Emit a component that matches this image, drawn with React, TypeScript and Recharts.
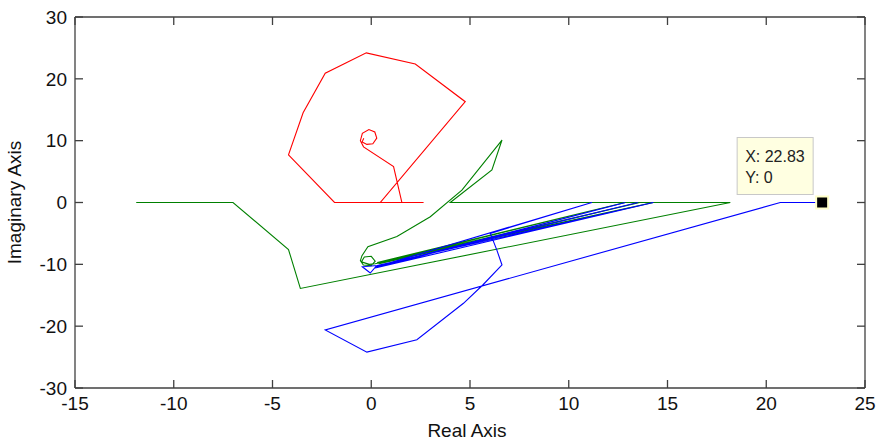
import { LineChart, Line, XAxis, YAxis, ReferenceDot } from "recharts";

type Pt = { x: number; y: number };

const xTicks = [-15, -10, -5, 0, 5, 10, 15, 20, 25];
const yTicks = [-30, -20, -10, 0, 10, 20, 30];

const redCurve: Pt[] = [
  { x: 2.65, y: 0 }, { x: -1.86, y: 0 }, { x: -4.19, y: 7.7 }, { x: -3.45, y: 14.5 },
  { x: -2.33, y: 20.9 }, { x: -0.25, y: 24.2 }, { x: 2.23, y: 22.4 }, { x: 4.76, y: 16.3 },
  { x: 0.46, y: 0 }, { x: 1.55, y: 0 }, { x: 1.13, y: 5.8 }, { x: -0.39, y: 9.0 },
  { x: -0.55, y: 10.0 }, { x: -0.45, y: 11.2 }, { x: -0.12, y: 11.8 }, { x: 0.18, y: 11.4 },
  { x: 0.28, y: 10.4 }, { x: 0.08, y: 9.5 }, { x: -0.22, y: 9.4 }, { x: -0.46, y: 9.8 },
  { x: -0.38, y: 10.4 },
];

const greenCurve: Pt[] = [
  { x: -11.9, y: 0 }, { x: -7.0, y: 0 }, { x: -4.19, y: -7.6 }, { x: -3.59, y: -13.9 },
  { x: 18.18, y: 0 }, { x: 4.0, y: 0 }, { x: 6.11, y: 5.26 }, { x: 6.62, y: 10.1 },
  { x: 4.59, y: 2.0 }, { x: 2.99, y: -2.3 }, { x: 1.3, y: -5.5 }, { x: -0.17, y: -7.15 },
  { x: -0.47, y: -8.6 }, { x: -0.55, y: -9.4 }, { x: -0.4, y: -10.1 }, { x: 0.0, y: -10.2 },
  { x: 0.2, y: -9.5 }, { x: 0.0, y: -8.7 }, { x: -0.35, y: -8.8 }, { x: -0.5, y: -9.6 },
  { x: -0.1, y: -10.0 }, { x: 0.2, y: -9.9 }, { x: 12.86, y: 0 }, { x: 0.3, y: -9.7 },
  { x: 14.28, y: 0 }, { x: 0.4, y: -9.9 }, { x: 13.6, y: 0 }, { x: 0.35, y: -9.8 },
];

const blueCurve: Pt[] = [
  { x: 22.83, y: 0 }, { x: 20.71, y: 0 }, { x: -2.33, y: -20.6 }, { x: -0.22, y: -24.2 },
  { x: 2.31, y: -22.2 }, { x: 4.67, y: -16.3 }, { x: 5.66, y: -13.3 }, { x: 6.62, y: -10.1 },
  { x: 6.36, y: -7.7 }, { x: 6.03, y: -5.0 }, { x: 11.17, y: 0 }, { x: 0.25, y: -10.4 },
  { x: 12.86, y: 0 }, { x: 0.2, y: -10.6 }, { x: 14.28, y: 0 }, { x: 0.3, y: -10.2 },
  { x: -0.45, y: -10.4 }, { x: -0.05, y: -11.4 }, { x: 0.25, y: -10.3 }, { x: 13.5, y: 0 },
];

const dataTip = { x: 22.83, y: 0 };

const FONT = "'Liberation Sans', Arial, sans-serif";
const AXIS = "#404040";
const tickStyle = { fontSize: 19, fill: "#111", fontFamily: FONT };

// top/right axes: keep the tick marks, draw no labels
const NoLabel = () => <g />;

function DataTip(props: any) {
  const { cx, cy } = props;
  if (cx == null || cy == null) return null;
  return (
    <g>
      <rect x={cx - 85} y={cy - 65} width={76} height={57} fill="#ffffe1" stroke="#c8c8c8" />
      <text x={cx - 77} y={cy - 41} fontSize={16} fontFamily={FONT} fill="#222">
        X: {dataTip.x}
      </text>
      <text x={cx - 77} y={cy - 20} fontSize={16} fontFamily={FONT} fill="#222">
        Y: {dataTip.y}
      </text>
      <rect x={cx - 6} y={cy - 6} width={12} height={12} fill="#000" stroke="#ffffc8" strokeWidth={2} />
    </g>
  );
}

function YLabel(props: any) {
  const { viewBox } = props;
  if (!viewBox) return null;
  const cx = viewBox.x + 6;
  const cy = viewBox.y + viewBox.height / 2;
  return (
    <text x={cx} y={cy} transform={`rotate(-90 ${cx} ${cy})`} textAnchor="middle" fontSize={19} fontFamily={FONT} fill="#111">
      Imaginary Axis
    </text>
  );
}

function XLabel(props: any) {
  const { viewBox } = props;
  if (!viewBox) return null;
  return (
    <text x={viewBox.x + viewBox.width / 2 - 3} y={viewBox.y + viewBox.height} textAnchor="middle" fontSize={19} fontFamily={FONT} fill="#111">
      Real Axis
    </text>
  );
}

export default function App() {
  return (
    <div style={{ width: 876, height: 443, background: "#fff" }}>
      <style>{"body { margin: 0; overflow: hidden; } .recharts-wrapper svg { overflow: visible; }"}</style>
      <LineChart width={876} height={443} margin={{ top: 16, right: 10, bottom: 6, left: 15 }}>
        <XAxis
          type="number"
          dataKey="x"
          domain={[-15, 25]}
          ticks={xTicks}
          allowDataOverflow
          height={49}
          tickSize={-8}
          tickMargin={17}
          stroke={AXIS}
          strokeWidth={1.3}
          tick={tickStyle}
          label={<XLabel />}
        />
        <XAxis
          xAxisId="top"
          orientation="top"
          type="number"
          dataKey="x"
          domain={[-15, 25]}
          ticks={xTicks}
          allowDataOverflow
          height={1}
          tickSize={-8}
          tick={NoLabel}
          stroke={AXIS}
          strokeWidth={1.3}
        />
        <YAxis
          type="number"
          dataKey="y"
          domain={[-30, 30]}
          ticks={yTicks}
          allowDataOverflow
          width={60}
          tickSize={-8}
          tickMargin={16}
          stroke={AXIS}
          strokeWidth={1.3}
          tick={tickStyle}
          label={<YLabel />}
        />
        <YAxis
          yAxisId="right"
          orientation="right"
          type="number"
          dataKey="y"
          domain={[-30, 30]}
          ticks={yTicks}
          allowDataOverflow
          width={1}
          tickSize={-8}
          tick={NoLabel}
          stroke={AXIS}
          strokeWidth={1.3}
        />
        {/* invisible series so the top/right box axes get drawn */}
        <Line xAxisId="top" yAxisId="right" data={[dataTip]} dataKey="y" stroke="none" dot={false} activeDot={false} isAnimationActive={false} />
        <Line data={redCurve} dataKey="y" type="linear" stroke="#ff0000" strokeWidth={1.1} dot={false} activeDot={false} isAnimationActive={false} />
        <Line data={greenCurve} dataKey="y" type="linear" stroke="#008000" strokeWidth={1.1} dot={false} activeDot={false} isAnimationActive={false} />
        <Line data={blueCurve} dataKey="y" type="linear" stroke="#0000ff" strokeWidth={1.1} dot={false} activeDot={false} isAnimationActive={false} />
        <ReferenceDot x={dataTip.x} y={dataTip.y} shape={<DataTip />} />
      </LineChart>
    </div>
  );
}
